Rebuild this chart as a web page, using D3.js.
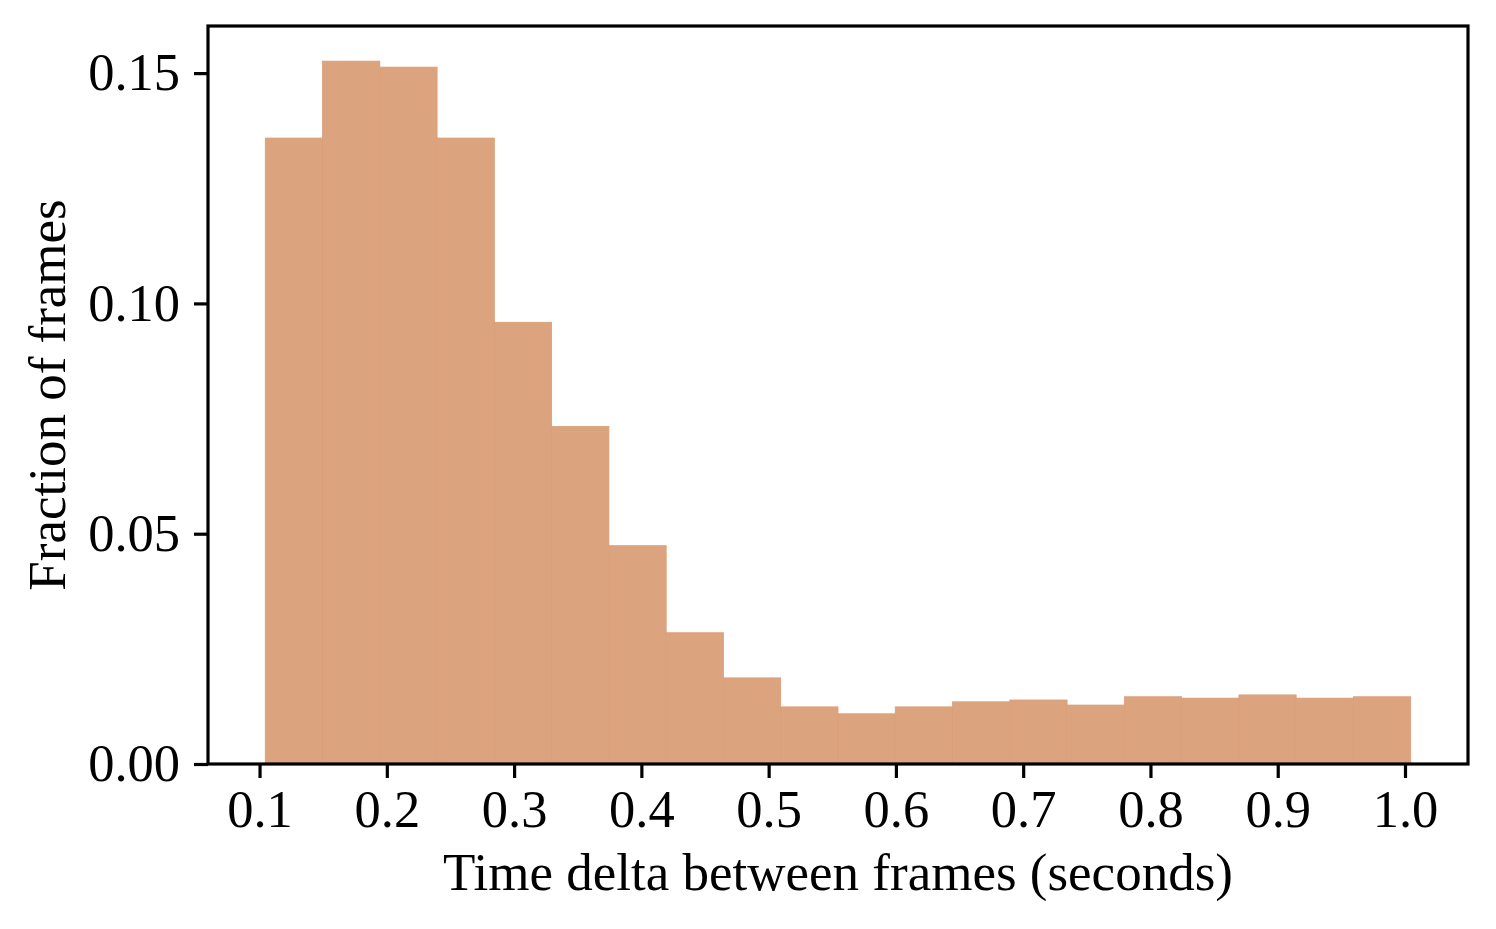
<!DOCTYPE html>
<meta charset="utf-8">
<html>
<script src="https://d3js.org/d3.v7.min.js"></script>
<style>
  body { margin: 0; background: #fff; }
</style>
<body>
<div id="hist"></div>
<script>

// histogram bins (left edges, seconds) and bar heights (fraction of frames)
var binStart = 0.1045;
var binWidth = 0.045;
var fractions = [0.1359, 0.1526, 0.1513, 0.1359, 0.0959, 0.0733, 0.0474, 0.0285, 0.0187, 0.0124,
                 0.0109, 0.0124, 0.0135, 0.0139, 0.0128, 0.0146, 0.0143, 0.0150, 0.0143, 0.0146];
var xTicks = [0.1, 0.2, 0.3, 0.4, 0.5, 0.6, 0.7, 0.8, 0.9, 1.0];
var yTicks = [0.00, 0.05, 0.10, 0.15];

var width = 1496,
    height = 929;
var margin = {left: 208, right: 28, top: 26, bottom: 165};

var bins = fractions.map(function(v, i) {
  return {x0: binStart + i * binWidth, x1: binStart + (i + 1) * binWidth, value: v};
});

var svg = d3.select("#hist")
  .append("svg")
    .attr("width", width)
    .attr("height", height)
    .style("font-family", "'Liberation Serif', 'Times New Roman', serif");

// matplotlib-style 5% margins
var xmin = bins[0].x0, xmax = bins[bins.length - 1].x1;
var pad = (xmax - xmin) * 0.05;
var x = d3.scaleLinear()
  .domain([xmin - pad, xmax + pad])
  .range([margin.left, width - margin.right]);

var y = d3.scaleLinear()
  .domain([0, d3.max(fractions) * 1.05])
  .range([height - margin.bottom, margin.top]);

svg.append("g")
  .selectAll("rect")
  .data(bins)
  .enter().append("rect")
    .attr("x", function(d) { return x(d.x0); })
    .attr("width", function(d) { return x(d.x1) - x(d.x0); })
    .attr("y", function(d) { return y(d.value); })
    .attr("height", function(d) { return y(0) - y(d.value); })
    .attr("fill", "#dca47e")
    .attr("stroke", "#d99f78")
    .attr("stroke-width", 0.8);

// x axis
var xAxis = svg.append("g")
  .attr("transform", "translate(0," + y(0) + ")")
  .call(d3.axisBottom(x).tickValues(xTicks).tickFormat(d3.format(".1f")).tickSize(14).tickPadding(12));

// y axis
var yAxis = svg.append("g")
  .attr("transform", "translate(" + margin.left + ",0)")
  .call(d3.axisLeft(y).tickValues(yTicks).tickFormat(d3.format(".2f")).tickSize(14).tickPadding(14));

[xAxis, yAxis].forEach(function(a) {
  a.select(".domain").remove();
  a.selectAll(".tick line").attr("stroke", "#000").attr("stroke-width", 3.2);
  a.selectAll(".tick text")
    .attr("fill", "#000")
    .style("font-family", "'Liberation Serif', 'Times New Roman', serif")
    .style("font-size", "52.5px");
});

// frame around the plot
svg.append("rect")
  .attr("x", margin.left)
  .attr("y", margin.top)
  .attr("width", width - margin.right - margin.left)
  .attr("height", height - margin.bottom - margin.top)
  .attr("fill", "none")
  .attr("stroke", "#000")
  .attr("stroke-width", 3.2);

svg.append("text")
  .attr("x", (margin.left + width - margin.right) / 2)
  .attr("y", 890)
  .attr("text-anchor", "middle")
  .style("font-size", "53px")
  .text("Time delta between frames (seconds)");

svg.append("text")
  .attr("transform", "translate(65," + (margin.top + height - margin.bottom) / 2 + ") rotate(-90)")
  .attr("text-anchor", "middle")
  .style("font-size", "53px")
  .text("Fraction of frames");

</script>
</body>
</html>
